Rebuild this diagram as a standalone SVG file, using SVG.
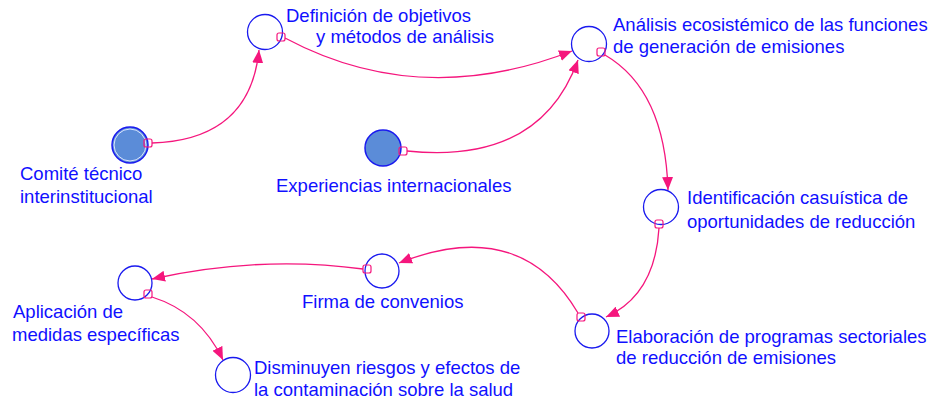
<svg xmlns="http://www.w3.org/2000/svg" width="933" height="400" viewBox="0 0 933 400">
<defs>
<marker id="ah" viewBox="0 0 13 11" refX="13" refY="5.5" markerWidth="13" markerHeight="11" markerUnits="userSpaceOnUse" orient="auto">
<path d="M0,0 L13,5.5 L0,11 Z" fill="#f5167d"/>
</marker>
</defs>
<style>
.n{fill:#ffffff;stroke:#1a1aef;stroke-width:1.3}
.f{fill:#5b8cd8;stroke:#1a1aef;stroke-width:1.5}
.hl{fill:none;stroke:#dfe8ff;stroke-width:1}
.t{font-family:"Liberation Sans",Arial,sans-serif;font-size:18.5px;fill:#1010ff}
.c{fill:none;stroke:#f5167d;stroke-width:1.3;marker-end:url(#ah)}
.b{fill:none;stroke:#f5167d;stroke-width:1.2}
</style>
<g id="comite">
<circle class="f" cx="130" cy="145" r="18"/>
<circle class="hl" cx="130" cy="145" r="16"/>
<text class="t" x="20" y="180">Comité técnico</text>
<text class="t" x="20" y="203">interinstitucional</text>
</g>
<g id="definicion">
<circle class="n" cx="265" cy="32" r="17.5"/>
<text class="t" x="286" y="22">Definición de objetivos</text>
<text class="t" x="316" y="43">y métodos de análisis</text>
</g>
<g id="analisis">
<circle class="n" cx="589" cy="44" r="17.5"/>
<text class="t" x="613" y="31">Análisis ecosistémico de las funciones</text>
<text class="t" x="613" y="53">de generación de emisiones</text>
</g>
<g id="experiencias">
<circle class="f" cx="383" cy="148" r="18"/>
<text class="t" x="276" y="192">Experiencias internacionales</text>
</g>
<g id="identificacion">
<circle class="n" cx="661" cy="207" r="17.5"/>
<text class="t" x="687" y="204">Identificación casuística de</text>
<text class="t" x="687" y="228">oportunidades de reducción</text>
</g>
<g id="elaboracion">
<circle class="n" cx="592" cy="331" r="17"/>
<text class="t" x="616" y="343">Elaboración de programas sectoriales</text>
<text class="t" x="616" y="364">de reducción de emisiones</text>
</g>
<g id="firma">
<circle class="n" cx="382" cy="271" r="17"/>
<text class="t" x="302" y="308">Firma de convenios</text>
</g>
<g id="aplicacion">
<circle class="n" cx="135" cy="283" r="17"/>
<text class="t" x="13" y="318">Aplicación de</text>
<text class="t" x="12" y="341">medidas específicas</text>
</g>
<g id="disminuyen">
<circle class="n" cx="233" cy="375" r="17.5"/>
<text class="t" x="254" y="374">Disminuyen riesgos y efectos de</text>
<text class="t" x="254" y="396">la contaminación sobre la salud</text>
</g>
<g id="connectors">
<path class="c" d="M152,143 Q250,140 259,50"/>
<path class="c" d="M285,38 Q420,110 572,51"/>
<path class="c" d="M407,151 Q540,165 578,60"/>
<path class="c" d="M605,55 Q665,90 668,190"/>
<path class="c" d="M659,228 Q655,295 606,317"/>
<path class="c" d="M578,313 Q520,215 399,263"/>
<path class="c" d="M363,269 Q260,255 152,279"/>
<path class="c" d="M152,297 Q200,312 223,360"/>
<rect class="b" x="144" y="139" width="8" height="8" rx="2"/>
<rect class="b" x="277" y="33" width="8" height="8" rx="2"/>
<rect class="b" x="597" y="48" width="8" height="8" rx="2"/>
<rect class="b" x="399" y="147" width="8" height="8" rx="2"/>
<rect class="b" x="655" y="220" width="8" height="8" rx="2"/>
<rect class="b" x="577" y="313" width="8" height="8" rx="2"/>
<rect class="b" x="363" y="265" width="8" height="8" rx="2"/>
<rect class="b" x="144" y="290" width="8" height="8" rx="2"/>
</g>
</svg>
